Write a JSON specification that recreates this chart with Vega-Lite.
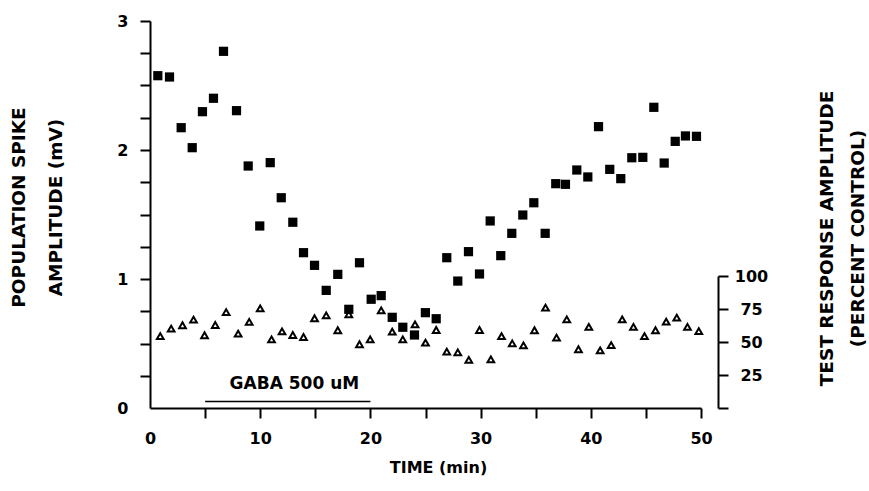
{
  "$schema": "https://vega.github.io/schema/vega-lite/v6.json",
  "width": 551,
  "height": 387,
  "autosize": {"type": "none"},
  "padding": {"left": 150, "top": 21, "right": 168, "bottom": 83},
  "background": "white",
  "config": {
    "view": {"stroke": null},
    "axis": {
      "grid": false,
      "domainColor": "black",
      "domainWidth": 2,
      "tickColor": "black",
      "tickWidth": 2,
      "tickSize": 10,
      "labelFont": "DejaVu Sans",
      "labelFontSize": 16,
      "labelFontWeight": "bold",
      "labelColor": "black",
      "labelFlush": false,
      "labelOverlap": false,
      "titleFont": "DejaVu Sans",
      "titleFontWeight": "bold",
      "titleColor": "black"
    }
  },
  "datasets": {
    "spike": [
      {"time": 0.71, "amplitude": 2.576},
      {"time": 1.77, "amplitude": 2.566},
      {"time": 2.83, "amplitude": 2.173},
      {"time": 3.83, "amplitude": 2.018},
      {"time": 4.76, "amplitude": 2.297},
      {"time": 5.76, "amplitude": 2.401},
      {"time": 6.67, "amplitude": 2.765},
      {"time": 7.85, "amplitude": 2.305},
      {"time": 8.91, "amplitude": 1.876},
      {"time": 9.96, "amplitude": 1.411},
      {"time": 10.91, "amplitude": 1.902},
      {"time": 11.91, "amplitude": 1.63},
      {"time": 12.96, "amplitude": 1.44},
      {"time": 13.93, "amplitude": 1.204},
      {"time": 14.93, "amplitude": 1.106},
      {"time": 15.99, "amplitude": 0.912},
      {"time": 17.04, "amplitude": 1.036},
      {"time": 18.04, "amplitude": 0.765},
      {"time": 19.01, "amplitude": 1.126},
      {"time": 20.07, "amplitude": 0.843},
      {"time": 20.98, "amplitude": 0.871},
      {"time": 21.98, "amplitude": 0.703},
      {"time": 22.94, "amplitude": 0.626},
      {"time": 24.0, "amplitude": 0.566},
      {"time": 24.99, "amplitude": 0.739},
      {"time": 25.97, "amplitude": 0.692},
      {"time": 26.93, "amplitude": 1.165},
      {"time": 27.93, "amplitude": 0.984},
      {"time": 28.9, "amplitude": 1.212},
      {"time": 29.9, "amplitude": 1.039},
      {"time": 30.87, "amplitude": 1.45},
      {"time": 31.83, "amplitude": 1.181},
      {"time": 32.83, "amplitude": 1.354},
      {"time": 33.83, "amplitude": 1.496},
      {"time": 34.83, "amplitude": 1.591},
      {"time": 35.86, "amplitude": 1.354},
      {"time": 36.82, "amplitude": 1.739},
      {"time": 37.7, "amplitude": 1.734},
      {"time": 38.73, "amplitude": 1.845},
      {"time": 39.73, "amplitude": 1.791},
      {"time": 40.7, "amplitude": 2.181},
      {"time": 41.72, "amplitude": 1.85},
      {"time": 42.72, "amplitude": 1.778},
      {"time": 43.72, "amplitude": 1.94},
      {"time": 44.72, "amplitude": 1.943},
      {"time": 45.72, "amplitude": 2.331},
      {"time": 46.66, "amplitude": 1.899},
      {"time": 47.66, "amplitude": 2.067},
      {"time": 48.59, "amplitude": 2.109},
      {"time": 49.59, "amplitude": 2.106}
    ],
    "test": [
      {"time": 0.93, "percent": 54.5},
      {"time": 1.92, "percent": 60.1},
      {"time": 2.95, "percent": 62.7},
      {"time": 3.95, "percent": 66.9},
      {"time": 4.95, "percent": 55.1},
      {"time": 5.92, "percent": 62.9},
      {"time": 6.91, "percent": 72.7},
      {"time": 8.0, "percent": 56.3},
      {"time": 9.0, "percent": 65.2},
      {"time": 10.0, "percent": 75.5},
      {"time": 11.03, "percent": 52.0},
      {"time": 11.98, "percent": 58.1},
      {"time": 12.96, "percent": 55.3},
      {"time": 13.93, "percent": 53.8},
      {"time": 14.93, "percent": 68.0},
      {"time": 15.99, "percent": 70.2},
      {"time": 17.04, "percent": 58.9},
      {"time": 18.04, "percent": 71.0},
      {"time": 19.01, "percent": 48.3},
      {"time": 19.98, "percent": 52.0},
      {"time": 20.98, "percent": 74.0},
      {"time": 21.98, "percent": 57.8},
      {"time": 22.94, "percent": 52.0},
      {"time": 24.05, "percent": 63.4},
      {"time": 25.0, "percent": 49.5},
      {"time": 25.97, "percent": 59.1},
      {"time": 26.93, "percent": 42.7},
      {"time": 27.93, "percent": 42.2},
      {"time": 28.93, "percent": 36.4},
      {"time": 29.9, "percent": 59.1},
      {"time": 30.93, "percent": 36.9},
      {"time": 31.9, "percent": 54.5},
      {"time": 32.87, "percent": 49.0},
      {"time": 33.89, "percent": 47.5},
      {"time": 34.89, "percent": 58.9},
      {"time": 35.89, "percent": 76.0},
      {"time": 36.89, "percent": 53.3},
      {"time": 37.82, "percent": 67.2},
      {"time": 38.88, "percent": 44.5},
      {"time": 39.82, "percent": 61.4},
      {"time": 40.85, "percent": 43.7},
      {"time": 41.85, "percent": 47.7},
      {"time": 42.85, "percent": 67.2},
      {"time": 43.87, "percent": 61.4},
      {"time": 44.87, "percent": 54.5},
      {"time": 45.87, "percent": 58.9},
      {"time": 46.84, "percent": 65.4},
      {"time": 47.8, "percent": 68.4},
      {"time": 48.77, "percent": 61.4},
      {"time": 49.8, "percent": 58.3}
    ],
    "gaba": [
      {"start": 5, "end": 20, "label": "GABA 500 uM"}
    ]
  },
  "layer": [
    {
      "data": {"name": "spike"},
      "mark": {"type": "point", "shape": "square", "filled": true, "size": 85, "color": "black", "opacity": 1},
      "encoding": {
        "x": {
          "field": "time",
          "type": "quantitative",
          "scale": {"domain": [0, 50], "nice": false, "zero": false},
          "axis": {
            "orient": "bottom",
            "values": [0, 5, 10, 15, 20, 25, 30, 35, 40, 45, 50],
            "labelExpr": "datum.value % 10 === 0 ? '' + datum.value : ''",
            "tickOpacity": {"condition": {"test": "datum.value === 0", "value": 0}, "value": 1},
            "labelPadding": 12,
            "title": "TIME (min)",
            "titleFontSize": 16,
            "titleX": 288,
            "titleY": 59,
            "titleBaseline": "middle",
            "titleAlign": "center"
          }
        },
        "y": {
          "field": "amplitude",
          "type": "quantitative",
          "scale": {"domain": [0, 3], "nice": false, "zero": false},
          "axis": {
            "orient": "left",
            "values": [0, 0.25, 0.5, 0.75, 1, 1.25, 1.5, 1.75, 2, 2.25, 2.5, 2.75, 3],
            "labelExpr": "datum.value % 1 === 0 ? '' + datum.value : ''",
            "tickOpacity": {"condition": {"test": "datum.value === 0", "value": 0}, "value": 1},
            "labelPadding": 12,
            "title": ["POPULATION SPIKE", "AMPLITUDE (mV)"],
            "titleFontSize": 18.5,
            "titleAngle": -90,
            "titleAlign": "center",
            "titleBaseline": "middle",
            "titleLineHeight": 36.5,
            "titleX": -131.5,
            "titleY": 186
          }
        }
      }
    },
    {
      "data": {"name": "gaba"},
      "mark": {"type": "rule", "color": "black", "strokeWidth": 1.5},
      "encoding": {
        "x": {"field": "start", "type": "quantitative", "scale": {"domain": [0, 50], "nice": false, "zero": false}, "axis": null},
        "x2": {"field": "end"},
        "y": {"datum": 0.05, "type": "quantitative", "scale": {"domain": [0, 3], "nice": false, "zero": false}, "axis": null}
      }
    },
    {
      "data": {"name": "gaba"},
      "mark": {"type": "text", "font": "DejaVu Sans", "fontWeight": "bold", "fontSize": 17, "color": "black", "align": "center", "baseline": "middle"},
      "encoding": {
        "x": {"datum": 13.1, "type": "quantitative", "scale": {"domain": [0, 50], "nice": false, "zero": false}, "axis": null},
        "y": {"datum": 0.186, "type": "quantitative", "scale": {"domain": [0, 3], "nice": false, "zero": false}, "axis": null},
        "text": {"field": "label"}
      }
    },
    {
      "data": {"name": "test"},
      "mark": {"type": "point", "shape": "triangle-up", "filled": false, "size": 45, "strokeWidth": 2, "color": "black", "opacity": 1},
      "encoding": {
        "x": {"field": "time", "type": "quantitative", "scale": {"domain": [0, 50], "nice": false, "zero": false}, "axis": null},
        "y": {
          "field": "percent",
          "type": "quantitative",
          "scale": {"domain": [0, 100], "range": [387, 255], "nice": false},
          "axis": {
            "orient": "right",
            "offset": 17,
            "values": [0, 25, 50, 75, 100],
            "labelExpr": "datum.value === 0 ? '' : '' + datum.value",
            "labelAlign": "center",
            "labelPadding": 23,
            "title": ["TEST RESPONSE AMPLITUDE", "(PERCENT CONTROL)"],
            "titleFontSize": 18.5,
            "titleAngle": -90,
            "titleAlign": "center",
            "titleBaseline": "middle",
            "titleLineHeight": 31,
            "titleX": 108.5,
            "titleY": 217
          }
        }
      }
    }
  ],
  "resolve": {"scale": {"y": "independent"}, "axis": {"x": "independent", "y": "independent"}}
}
